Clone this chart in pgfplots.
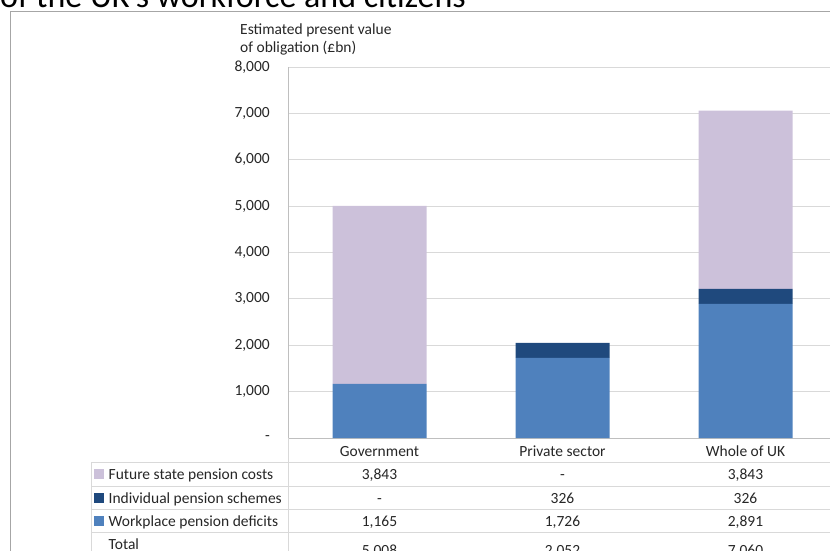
\documentclass[border=0pt]{standalone}
\usepackage{pgfplots}
\pgfplotsset{compat=1.18}
\usepackage{fontspec}
\setmainfont{Carlito}
\definecolor{lav}{HTML}{CCC1DA}
\definecolor{dblue}{HTML}{1F497D}
\definecolor{mblue}{HTML}{4F81BD}
\definecolor{gridc}{HTML}{D9D9D9}
\definecolor{axc}{HTML}{BFBFBF}
\definecolor{framec}{HTML}{A6A6A6}
\definecolor{txt}{HTML}{262626}
\begin{document}
\begin{tikzpicture}[x=1pt,y=1pt]
\useasboundingbox (0,0) rectangle (830,550);
\clip (0,0) rectangle (830,550);
\fontsize{15.5}{18.6}\selectfont
% outer frame
\draw[framec, line width=1pt] (10,-5) -- (10,538) -- (845,538);
% cropped title
\node[anchor=base west, inner sep=0pt, font=\fontsize{34}{40}\selectfont] at (0,542) {of the UK's workforce and citizens};
% y axis title
\node[anchor=base west, inner sep=0pt, text=txt] at (240,515) {Estimated present value};
\node[anchor=base west, inner sep=0pt, text=txt] at (240,497) {of obligation (£bn)};

\begin{axis}[at={(288pt,112pt)}, anchor=south west, scale only axis,
 width=549pt, height=371pt,
 ymin=0, ymax=8000, xmin=-0.5, xmax=2.5,
 ybar stacked, bar width=94pt,
 ytick={0,1000,2000,3000,4000,5000,6000,7000,8000},
 yticklabels={-,{1,000},{2,000},{3,000},{4,000},{5,000},{6,000},{7,000},{8,000}},
 xtick=\empty,
 ymajorgrids, grid style={gridc, line width=0.9pt},
 axis x line*=bottom, axis y line*=left,
 axis line style={axc, line width=0.9pt, -},
 major tick length=0pt,
 yticklabel style={anchor=east, inner sep=0pt, xshift=-18pt, text=txt,
   font=\fontsize{15.5}{18}\selectfont},
 /pgf/number format/assume math mode=true,
 clip=false
]
\addplot[fill=mblue, draw=none] coordinates {(0,1165) (1,1726) (2,2891)};
\addplot[fill=dblue, draw=none] coordinates {(0,0) (1,326) (2,326)};
\addplot[fill=lav, draw=none] coordinates {(0,3843) (1,0) (2,3843)};
\end{axis}

% data table lines
\draw[gridc, line width=0.9pt] (288,112) -- (288,-5);
\draw[gridc, line width=0.9pt] (91,88) -- (91,-5);
\foreach \yy in {88,64,41,18} {\draw[gridc, line width=0.9pt] (91,\yy) -- (845,\yy);}
% column headers
\foreach \xx/\lab in {379.5/Government, 562.5/Private sector, 745.5/Whole of UK}
  {\node[anchor=base, inner sep=0pt, text=txt] at (\xx,94) {\lab};}
% legend keys
\fill[lav] (93.5,71.5) rectangle (103.5,81.5);
\fill[dblue] (93.5,47.5) rectangle (103.5,57.5);
\fill[mblue] (93.5,24.5) rectangle (103.5,34.5);
\node[anchor=base west, inner sep=0pt, text=txt] at (108.5,71) {Future state pension costs};
\node[anchor=base west, inner sep=0pt, text=txt] at (108.5,47) {Individual pension schemes};
\node[anchor=base west, inner sep=0pt, text=txt] at (108.5,24) {Workplace pension deficits};
\node[anchor=base west, inner sep=0pt, text=txt] at (108.5,1) {Total};
% values
\foreach \xx/\a/\b/\c/\d in {379.5/{3,843}/-/{1,165}/{5,008}, 562.5/-/326/{1,726}/{2,052}, 745.5/{3,843}/326/{2,891}/{7,060}}{
  \node[anchor=base, inner sep=0pt, text=txt] at (\xx,71) {\a};
  \node[anchor=base, inner sep=0pt, text=txt] at (\xx,47) {\b};
  \node[anchor=base, inner sep=0pt, text=txt] at (\xx,24) {\c};
  \node[anchor=base, inner sep=0pt, text=txt] at (\xx,-5) {\d};
}
\end{tikzpicture}
\end{document}
